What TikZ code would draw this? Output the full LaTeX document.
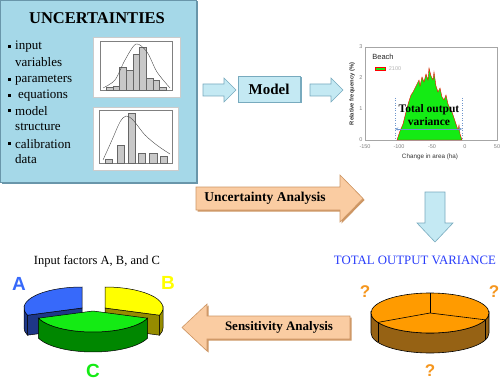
\documentclass[tikz,border=0pt]{standalone}
\usepackage{fontspec}
\setmainfont{Liberation Serif}
\newfontfamily\chartfont{Liberation Sans}
\usetikzlibrary{positioning,calc,backgrounds}
\definecolor{skyfill}{RGB}{165,216,232}
\definecolor{skyedge}{RGB}{105,150,170}
\definecolor{arrowblue}{RGB}{196,233,243}
\definecolor{arrowedge}{RGB}{120,170,190}
\definecolor{peach}{RGB}{250,204,162}
\definecolor{peachedge}{RGB}{205,150,100}
\definecolor{barfill}{RGB}{200,200,200}
\definecolor{histgreen}{RGB}{20,235,20}
\definecolor{steel}{RGB}{110,150,205}
\definecolor{varblue}{RGB}{40,60,250}
\definecolor{qorange}{RGB}{245,150,30}
\definecolor{pieblue}{RGB}{55,105,250}
\definecolor{piebluedark}{RGB}{30,55,135}
\definecolor{pieyellow}{RGB}{255,255,0}
\definecolor{pieyellowdark}{RGB}{150,140,0}
\definecolor{piegreen}{RGB}{20,235,20}
\definecolor{piegreendark}{RGB}{0,135,0}
\definecolor{pieorange}{RGB}{255,155,0}
\definecolor{piebrown}{RGB}{150,98,20}
\tikzstyle{panel}=[
  fill=skyfill, draw=skyedge, line width=0.8pt,
  preaction={fill=skyedge, transform canvas={shift={(1.5pt,-1.5pt)}}}
]
\tikzstyle{bluearrow}=[
  fill=arrowblue, draw=arrowedge, line width=0.6pt
]
\tikzstyle{peacharrow}=[
  fill=peach, draw=peachedge, line width=0.6pt,
  preaction={fill=peachedge, transform canvas={shift={(1.5pt,-1.5pt)}}}
]
\tikzstyle{modelbox}=[
  fill=arrowblue, draw=arrowedge, line width=0.6pt, minimum width=62pt, minimum height=26pt,
  font=\bfseries\fontsize{15}{15}\selectfont, inner sep=0pt,
  preaction={fill=arrowedge, transform canvas={shift={(1.5pt,-1.5pt)}}}
]
\tikzstyle{item}=[
  anchor=west, inner sep=0pt, font=\fontsize{13}{13}\selectfont
]
\tikzstyle{histbox}=[
  fill=white, draw=gray!40, line width=0.3pt
]
\tikzstyle{tick}=[
  inner sep=0pt, text=gray, font=\chartfont\fontsize{5.5}{5.5}\selectfont
]
\tikzstyle{pieletter}=[
  inner sep=0pt, font=\chartfont\bfseries\fontsize{19}{19}\selectfont
]
\tikzstyle{qmark}=[
  inner sep=0pt, text=qorange, font=\chartfont\bfseries\fontsize{17}{17}\selectfont
]
\begin{document}
\begin{tikzpicture}[x=1pt,y=1pt]
  \useasboundingbox (0,0) rectangle (500,-382);
  \def\rx{58}
  \def\ry{21}
  \def\pdepth{20}
  % uncertainty panel
  \draw [panel] (0,0) rectangle (196,-182);
  \node (title) at (97,-18) [font=\bfseries\fontsize{16.5}{16.5}\selectfont] {UNCERTAINTIES};
  \foreach \y in {47,80,96,111,144}
    \fill (8,-\y+1.5) rectangle +(3,-3);
  \node (i1) at (15,-47) [item] {input};
  \node (i2) at (15,-62.5) [item] {variables};
  \node (i3) at (15,-80) [item] {parameters};
  \node (i4) at (18,-96) [item] {equations};
  \node (i5) at (15,-111) [item] {model};
  \node (i6) at (15,-127) [item] {structure};
  \node (i7) at (15,-144) [item] {calibration};
  \node (i8) at (15,-159.5) [item] {data};
  % histograms
  \draw [histbox] (93,-37) rectangle (180,-97);
  \draw [gray, line width=0.3pt] (100,-41) rectangle (172,-90);
  \foreach \i/\h in {0/87,1/86,2/67,3/70,4/54,5/47,6/78,7/80,8/87}
    \draw [fill=barfill, draw=gray!80!black, line width=0.3pt]
      ({106+\i*6.7},-90) rectangle ({106+(\i+1)*6.7},-\h);
  \draw [gray!60!black, line width=0.4pt] plot [smooth] coordinates
    {(103,-88) (115,-80) (125,-60) (136,-44) (147,-52) (157,-72) (170,-88)};
  \draw [histbox] (93,-107) rectangle (178,-170);
  \draw [gray, line width=0.3pt] (99,-110) rectangle (172,-163);
  \foreach \a/\b/\h in {105/112/159,117/124/145,128/135/113,138/145/153,149/157/153,160/167/156}
    \draw [fill=barfill, draw=gray!80!black, line width=0.3pt] (\a,-163) rectangle (\b,-\h);
  \draw [gray!60!black, line width=0.4pt] plot [smooth] coordinates
    {(103,-160) (112,-140) (120,-122) (126,-116) (133,-120) (145,-135) (158,-146) (170,-154)};
  % model row
  \draw [bluearrow] (203,-84) -- (224,-84) -- (224,-78) -- (236,-90) -- (224,-102)
    -- (224,-96) -- (203,-96) -- cycle;
  \node (model) at (269,-89) [modelbox] {Model};
  \draw [bluearrow] (310,-84) -- (331,-84) -- (331,-78) -- (343,-90) -- (331,-102)
    -- (331,-96) -- (310,-96) -- cycle;
  % output chart
  \draw [gray!70, line width=0.3pt] (365,-47) rectangle (497,-140);
  \draw [red, fill=histgreen, line width=0.4pt] (397,-140) -- (400,-131) -- (403,-124)
    -- (405,-116) -- (407,-108) -- (409,-101) -- (411,-95) -- (413,-92) -- (415,-88)
    -- (417,-84) -- (419,-80) -- (420,-86) -- (422,-77) -- (424,-82) -- (426,-74)
    -- (428,-80) -- (429,-68) -- (431,-76) -- (433,-80) -- (434,-72) -- (436,-86)
    -- (438,-92) -- (440,-88) -- (442,-97) -- (444,-100) -- (446,-95) -- (448,-104)
    -- (450,-109) -- (452,-112) -- (454,-118) -- (456,-124) -- (458,-130) -- (459,-125)
    -- (460,-134) -- (462,-140) -- cycle;
  \foreach \v/\x in {-150/365,-100/399,-50/432,0/465,50/497}
    \node at (\x,-147) [tick] {\v};
  \foreach \v/\y in {3/47,2/78,1/109,0/140}
    \node at (361,-\y) [tick] {\v};
  \node (ylab) at (352,-94) [tick, text=black!80, rotate=90,
    font=\chartfont\bfseries\fontsize{5.8}{5.8}\selectfont] {Relative frequency (\%)};
  \node (xlab) at (430,-157) [tick, text=black!80,
    font=\chartfont\fontsize{6.3}{6.3}\selectfont] {Change in area (ha)};
  \node (beach) at (383,-57) [tick, text=black!85,
    font=\chartfont\fontsize{7.5}{7.5}\selectfont] {Beach};
  \draw [red, fill=histgreen, line width=0.5pt] (375,-67.5) rectangle (385,-70.5);
  \node (yr) at (395,-69) [tick, text=gray!60] {2100};
  \draw [steel, dotted, line width=0.5pt] (395,-98) -- (395,-140);
  \draw [steel, dotted, line width=0.5pt] (462,-98) -- (462,-140);
  \coordinate (vl) at (395,-129);
  \coordinate (vr) at (462,-129);
  \draw [steel, <->, >=stealth, line width=0.5pt] (vl) -- (vr);
  \node (tov) at (429,-115) [inner sep=0pt, align=center,
    font=\bfseries\fontsize{11.5}{13.5}\selectfont] {Total output\\variance};
  % uncertainty analysis arrow
  \draw [peacharrow] (196,-187) -- (340,-187) -- (340,-175) -- (363,-198.5)
    -- (340,-222) -- (340,-210) -- (196,-210) -- cycle;
  \node (ua) at (265,-198.5) [font=\bfseries\fontsize{13.5}{13.5}\selectfont] {Uncertainty Analysis};
  % down arrow
  \draw [bluearrow] (425,-192) -- (445,-192) -- (445,-223) -- (453,-223) -- (435,-242)
    -- (417,-223) -- (425,-223) -- cycle;
  \node (tv) at (415,-260) [text=varblue, font=\fontsize{12.8}{12.8}\selectfont] {TOTAL OUTPUT VARIANCE};
  % output pie
  \coordinate (pc) at (430,-313);
  \draw [fill=piebrown, line width=0.6pt] ($(pc)+(180:59 and 20)$)
    arc [start angle=180, end angle=360, x radius=59, y radius=20] -- ++(0,-\pdepth)
    arc [start angle=360, end angle=180, x radius=59, y radius=20] -- cycle;
  \draw [fill=pieorange, line width=0.6pt] (pc) ellipse [x radius=59, y radius=20];
  \foreach \t in {90,208,340}
    \draw [line width=0.6pt] (pc) -- ++(\t:59 and 20);
  \foreach \t in {208,340}
    \draw [line width=0.6pt] ($(pc)+(\t:59 and 20)$) -- ++(0,-\pdepth);
  \node (q1) at (365,-292) [qmark] {?};
  \node (q2) at (494,-292) [qmark] {?};
  \node (q3) at (430,-371) [qmark] {?};
  % sensitivity analysis arrow
  \draw [peacharrow] (350,-316) -- (207,-316) -- (207,-304) -- (182,-327.5)
    -- (207,-351) -- (207,-339) -- (350,-339) -- cycle;
  \node (sa) at (279,-327.5) [font=\bfseries\fontsize{13}{13}\selectfont] {Sensitivity Analysis};
  % input factor pie
  \node (inf) at (97,-261) [font=\fontsize{12.5}{12.5}\selectfont] {Input factors A, B, and C};
  \coordinate (pa) at (82,-308);
  \coordinate (pb) at (105,-308);
  \coordinate (pg) at (93,-311);
  \draw [fill=piebluedark, line width=0.5pt] (pa) -- ++(200:58 and 21) -- ++(0,-\pdepth)
    -- ($(pa)+(0,-\pdepth)$) -- cycle;
  \draw [fill=piebluedark, line width=0.5pt] ($(pa)+(180:58 and 21)$)
    arc [start angle=180, end angle=200, x radius=\rx, y radius=\ry] -- ++(0,-\pdepth)
    arc [start angle=200, end angle=180, x radius=\rx, y radius=\ry] -- cycle;
  \draw [fill=pieblue, line width=0.5pt] (pa) -- ++(90:58 and 21)
    arc [start angle=90, end angle=200, x radius=\rx, y radius=\ry] -- cycle;
  \draw [fill=pieyellowdark, line width=0.5pt] (pb) -- ++(-20:58 and 21) -- ++(0,-\pdepth)
    -- ($(pb)+(0,-\pdepth)$) -- cycle;
  \draw [fill=pieyellowdark, line width=0.5pt] ($(pb)+(-20:58 and 21)$)
    arc [start angle=-20, end angle=0, x radius=\rx, y radius=\ry] -- ++(0,-\pdepth)
    arc [start angle=0, end angle=-20, x radius=\rx, y radius=\ry] -- cycle;
  \draw [fill=pieyellow, line width=0.5pt] (pb) -- ++(-20:58 and 21)
    arc [start angle=-20, end angle=90, x radius=\rx, y radius=\ry] -- cycle;
  \draw [fill=piegreendark, line width=0.5pt] ($(pg)+(200:58 and 21)$)
    arc [start angle=200, end angle=340, x radius=\rx, y radius=\ry] -- ++(0,-\pdepth)
    arc [start angle=340, end angle=200, x radius=\rx, y radius=\ry] -- cycle;
  \draw [fill=piegreen, line width=0.5pt] (pg) -- ++(200:58 and 21)
    arc [start angle=200, end angle=340, x radius=\rx, y radius=\ry] -- cycle;
  \node (la) at (19,-284) [pieletter, text=pieblue] {A};
  \node (lb) at (168,-283) [pieletter, text=pieyellow] {B};
  \node (lc) at (93,-371) [pieletter, text=piegreen] {C};
\end{tikzpicture}
\end{document}
